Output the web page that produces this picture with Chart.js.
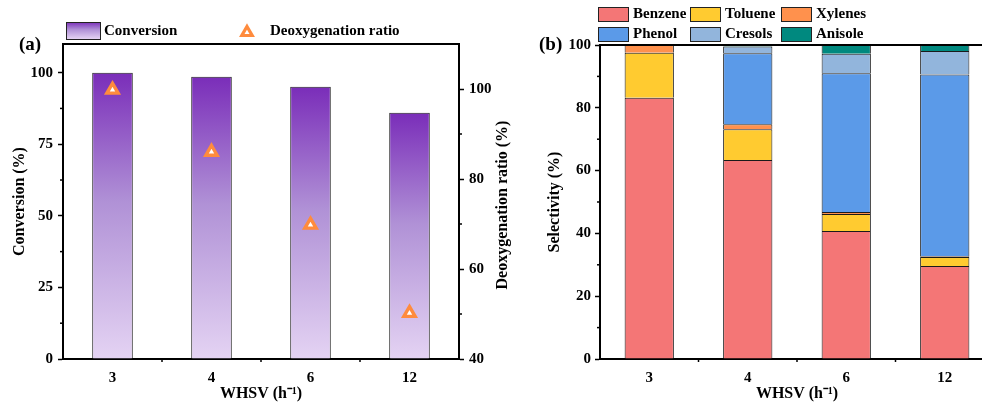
<!DOCTYPE html>
<html>
<head>
<meta charset="utf-8">
<script src="https://cdn.jsdelivr.net/npm/chart.js@4.4.0/dist/chart.umd.min.js"></script>
<style>
html, body { margin: 0; padding: 0; background: #fff; overflow: hidden; }
#wrap { position: relative; width: 982px; height: 407px; overflow: hidden; }
#boxA { position: absolute; left: 0; top: 0; width: 525px; height: 407px; }
#boxB { position: absolute; left: 525px; top: 0; width: 470px; height: 407px; }
</style>
</head>
<body>
<div id="wrap">
  <div id="boxA"><canvas id="chartA"></canvas></div>
  <div id="boxB"><canvas id="chartB"></canvas></div>
</div>
<script>
// panel (a)
var whsv = ["3", "4", "6", "12"];
var conversion = [100, 98.6, 95.1, 86.0];
var deoxygenation = [99.8, 86.0, 69.8, 50.2];
var convTicks = [0, 25, 50, 75, 100];
var convMinor = [12.5, 37.5, 62.5, 87.5];
var deoxTicks = [40, 60, 80, 100];
var deoxMinor = [50, 70, 90];

// panel (b)
var benzene = [83.2, 63.4, 40.8, 29.6];
var toluene = [14.3, 9.8, 5.4, 2.9];
var xylenes = [2.5, 1.6, 0.6, 0.2];
var phenol = [0, 22.6, 44.2, 57.9];
var cresols = [0, 2.1, 6.2, 7.5];
var anisole = [0, 0.5, 2.8, 1.9];
var selTicks = [0, 20, 40, 60, 80, 100];
var selMinor = [10, 30, 50, 70, 90];

var products = ["Benzene", "Toluene", "Xylenes", "Phenol", "Cresols", "Anisole"];
var productColors = ["#f47676", "#ffcb30", "#ff914d", "#5b9ae8", "#92b5dc", "#00897f"];

Chart.defaults.font.family = '"Liberation Serif", "Times New Roman", serif';
Chart.defaults.font.weight = "bold";
Chart.defaults.font.size = 15;
Chart.defaults.color = "#000";

var FONT = '"Liberation Serif", "Times New Roman", serif';
var titleFont = { size: 16, weight: "bold" };

function fixedTicks(list) {
  return function (s) { s.ticks = list.map(function (v) { return { value: v }; }); };
}
function fixW(w) { return function (s) { s.width = w; }; }
function fixH(h) { return function (s) { s.height = h; }; }

function purpleGrad(c, top, bottom) {
  var g = c.createLinearGradient(0, top, 0, bottom);
  g.addColorStop(0, "#7a2db9");
  g.addColorStop(0.45, "#b091d6");
  g.addColorStop(1, "#e4d3f3");
  return g;
}

function barGradient(ctx) {
  var chart = ctx.chart, y = chart.scales.y;
  if (!y || ctx.type !== "data") return "#b091d6";
  var top = y.getPixelForValue(conversion[ctx.dataIndex]);
  var base = y.getPixelForValue(0);
  if (!isFinite(top) || !isFinite(base) || top === base) return "#b091d6";
  return purpleGrad(chart.ctx, top, base);
}

function minorY(c, scale, values, side, len) {
  values.forEach(function (v) {
    var p = scale.getPixelForValue(v);
    c.beginPath();
    if (side === "left") { c.moveTo(scale.right, p); c.lineTo(scale.right - len, p); }
    else { c.moveTo(scale.left, p); c.lineTo(scale.left + len, p); }
    c.stroke();
  });
}
function minorX(c, scale, len) {
  for (var i = 0; i < scale.ticks.length - 1; i++) {
    var p = (scale.getPixelForTick(i) + scale.getPixelForTick(i + 1)) / 2;
    c.beginPath(); c.moveTo(p, scale.top); c.lineTo(p, scale.top + len); c.stroke();
  }
}

var axisLine = { color: "#000", width: 2 };
var yGrid = { drawOnChartArea: false, tickLength: 5, tickWidth: 1.5, tickColor: "#000" };
var xGrid = { drawOnChartArea: false, drawTicks: false, offset: false };

var decoA = {
  id: "decoA",
  afterDraw: function (chart) {
    var c = chart.ctx, a = chart.chartArea, s = chart.scales;
    c.save();
    c.strokeStyle = "#000";
    c.lineWidth = 2;
    c.beginPath(); c.moveTo(a.left - 1, a.top); c.lineTo(a.right + 1, a.top); c.stroke();
    c.lineWidth = 1.5;
    minorY(c, s.y, convMinor, "left", 3);
    minorY(c, s.y1, deoxMinor, "right", 3);
    minorX(c, s.x, 3);

    c.fillStyle = "#000";
    c.textBaseline = "middle";
    c.font = "bold 16px " + FONT;
    c.textAlign = "center";
    c.save();
    c.translate(503, 205);
    c.rotate(-Math.PI / 2);
    c.fillText("Deoxygenation ratio (%)", 0, 0);
    c.restore();

    c.textAlign = "left";
    c.font = "bold 19px " + FONT;
    c.fillText("(a)", 19, 45);

    // legend
    c.font = "bold 15px " + FONT;
    c.fillStyle = purpleGrad(c, 22, 39);
    c.fillRect(66, 22, 34, 17);
    c.lineWidth = 1;
    c.strokeStyle = "#222";
    c.strokeRect(66.5, 22.5, 34, 17);
    c.fillStyle = "#000";
    c.fillText("Conversion", 104, 31);
    var tx = 247, ty = 32.5, r = 6;
    c.beginPath();
    c.moveTo(tx, ty - r);
    c.lineTo(tx + r * 0.866, ty + r * 0.5);
    c.lineTo(tx - r * 0.866, ty + r * 0.5);
    c.closePath();
    c.fillStyle = "#fff"; c.fill();
    c.lineWidth = 3.2; c.strokeStyle = "#ff8b3d"; c.stroke();
    c.fillStyle = "#000";
    c.fillText("Deoxygenation ratio", 270, 31);
    c.restore();
  }
};

new Chart(document.getElementById("chartA"), {
  data: {
    labels: whsv,
    datasets: [
      {
        type: "line", label: "Deoxygenation ratio", data: deoxygenation, yAxisID: "y1",
        showLine: false, pointStyle: "triangle", pointRadius: 6.5, pointBorderWidth: 3.4,
        pointBorderColor: "#ff8b3d", pointBackgroundColor: "#fff", order: 0
      },
      {
        type: "bar", label: "Conversion", data: conversion, yAxisID: "y",
        backgroundColor: barGradient, borderColor: "#222", borderWidth: 1,
        categoryPercentage: 1, barPercentage: 0.41, order: 1
      }
    ]
  },
  options: {
    responsive: true, maintainAspectRatio: false, animation: false,
    layout: { padding: { top: 44, left: 0, right: 0, bottom: 0 } },
    plugins: { legend: { display: false }, tooltip: { enabled: false } },
    scales: {
      x: {
        grid: xGrid, border: axisLine, ticks: { padding: 10 },
        title: { display: true, text: "WHSV (h⁻¹)", font: titleFont, padding: { top: 0, bottom: 3.5 } },
        afterFit: fixH(48)
      },
      y: {
        position: "left", min: 0, max: 110, afterBuildTicks: fixedTicks(convTicks),
        grid: yGrid, border: axisLine, ticks: { padding: 5 },
        title: { display: true, text: "Conversion (%)", font: titleFont, padding: { top: 10.4, bottom: 0 } },
        afterFit: fixW(63)
      },
      y1: {
        position: "right", min: 40, max: 110, afterBuildTicks: fixedTicks(deoxTicks),
        grid: yGrid, border: axisLine, ticks: { padding: 5 },
        afterFit: fixW(66)
      }
    }
  },
  plugins: [decoA]
});

var decoB = {
  id: "decoB",
  afterDraw: function (chart) {
    var c = chart.ctx, a = chart.chartArea, s = chart.scales;
    c.save();
    c.strokeStyle = "#000";
    c.lineWidth = 2;
    c.beginPath(); c.moveTo(a.left - 1, a.top); c.lineTo(a.right + 1, a.top); c.stroke();
    c.lineWidth = 1.5;
    minorY(c, s.y, selMinor, "left", 3);
    minorX(c, s.x, 3);

    c.fillStyle = "#000";
    c.textBaseline = "middle";
    c.textAlign = "left";
    c.font = "bold 19px " + FONT;
    c.fillText("(b)", 14, 45);

    c.font = "bold 15px " + FONT;
    var colX = [73, 165, 256], rowY = [7, 27];
    products.forEach(function (name, i) {
      var x = colX[i % 3], y = rowY[Math.floor(i / 3)];
      c.fillStyle = productColors[i];
      c.fillRect(x, y, 30, 14);
      c.lineWidth = 1;
      c.strokeStyle = "#222";
      c.strokeRect(x + 0.5, y + 0.5, 30, 14);
      c.fillStyle = "#000";
      c.fillText(name, x + 35, y + 7.5);
    });
    c.restore();
  }
};

var seriesB = [benzene, toluene, xylenes, phenol, cresols, anisole];

new Chart(document.getElementById("chartB"), {
  type: "bar",
  data: {
    labels: whsv,
    datasets: seriesB.map(function (d, i) {
      return {
        label: products[i], data: d, backgroundColor: productColors[i],
        borderColor: "#1a1a1a", borderWidth: 1,
        categoryPercentage: 1, barPercentage: 0.5
      };
    })
  },
  options: {
    responsive: true, maintainAspectRatio: false, animation: false,
    layout: { padding: { top: 45, left: 0, right: 1, bottom: 0 } },
    plugins: { legend: { display: false }, tooltip: { enabled: false } },
    scales: {
      x: {
        stacked: true, grid: xGrid, border: axisLine, ticks: { padding: 10 },
        title: { display: true, text: "WHSV (h⁻¹)", font: titleFont, padding: { top: 0, bottom: 3.5 } },
        afterFit: fixH(48)
      },
      y: {
        stacked: true, min: 0, max: 100, afterBuildTicks: fixedTicks(selTicks),
        grid: yGrid, border: axisLine, ticks: { padding: 4 },
        title: { display: true, text: "Selectivity (%)", font: titleFont, padding: { top: 20.4, bottom: 0 } },
        afterFit: fixW(75)
      }
    }
  },
  plugins: [decoB]
});
</script>
</body>
</html>
